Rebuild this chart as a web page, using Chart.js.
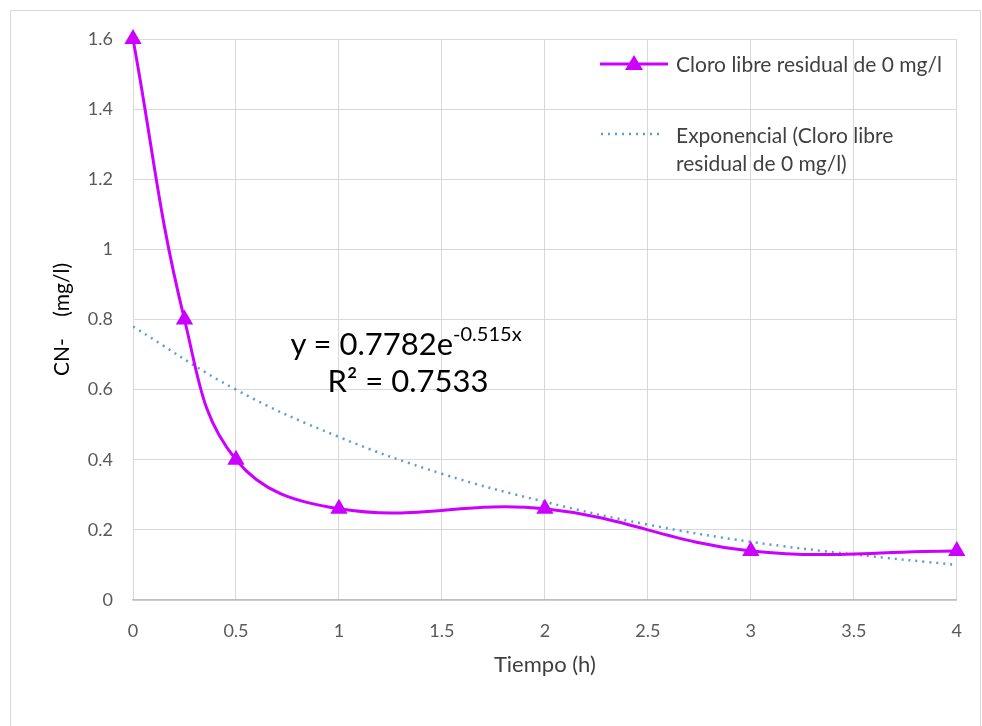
<!DOCTYPE html>
<html>
<head>
<meta charset="utf-8">
<script src="https://cdn.jsdelivr.net/npm/chart.js@4"></script>
<style>
  body { margin: 0; background: #fff; font-family: Lato, "Noto Sans", sans-serif; }
  #wrap { position: relative; width: 982px; height: 726px; overflow: hidden; }
  #frame { position: absolute; left: 10px; top: 10px; width: 969px; height: 730px; border: 1px solid #d9d9d9; }
  canvas { position: absolute; left: 0; top: 0; }
  .lbl { position: absolute; color: #404040; font-size: 21px; line-height: 28px; white-space: nowrap; }
  .eq { position: absolute; color: #000; font-size: 31px; text-align: center; width: 340px; white-space: nowrap; }
  .eq sup { font-size: 20px; vertical-align: 14px; }
  .key { position: absolute; }
</style>
</head>
<body>
<div id="wrap">
  <div id="frame"></div>
  <canvas id="chart" width="982" height="726"></canvas>

  <!-- leyenda -->
  <svg class="key" style="left:598px;top:52px" width="72" height="24">
    <line x1="2" y1="12" x2="70" y2="12" stroke="#cc00ff" stroke-width="3"/>
    <polygon points="36,3 45,18 27,18" fill="#cc00ff"/>
  </svg>
  <div class="lbl" style="left:676px;top:50px">Cloro libre residual de 0 mg/l</div>
  <svg class="key" style="left:598px;top:122px" width="72" height="24">
    <line x1="3" y1="12" x2="66" y2="12" stroke="#5b9bd5" stroke-width="2.5" stroke-dasharray="2 5" />
  </svg>
  <div class="lbl" style="left:676px;top:121px">Exponencial (Cloro libre<br>residual de 0 mg/l)</div>

  <!-- ecuacion de tendencia -->
  <div class="eq" style="left:236px;top:321px">y = 0.7782e<sup>-0.515x</sup></div>
  <div class="eq" style="left:238px;top:361px">R² = 0.7533</div>
</div>

<script>
// Tiempo (h) y CN- (mg/l)
const tiempo = [0, 0.25, 0.5, 1, 2, 3, 4];
const cianuro = [1.6, 0.8, 0.4, 0.26, 0.26, 0.14, 0.14];

// linea de tendencia exponencial
const tendX = [0, 0.5, 1, 1.5, 2, 2.5, 3, 3.5, 4];
const tendY = [0.78, 0.60, 0.465, 0.36, 0.28, 0.215, 0.166, 0.13, 0.10];

const xTicks = [0, 0.5, 1, 1.5, 2, 2.5, 3, 3.5, 4];
const yTicks = [0, 0.2, 0.4, 0.6, 0.8, 1, 1.2, 1.4, 1.6];

const ctx = document.getElementById('chart').getContext('2d');
new Chart(ctx, {
    type: 'line',
    data: {
        datasets: [
            {
                label: 'Cloro libre residual de 0 mg/l',
                data: tiempo.map((t, i) => ({ x: t, y: cianuro[i] })),
                borderColor: '#cc00ff',
                backgroundColor: '#cc00ff',
                borderWidth: 3,
                tension: 0.4,
                pointStyle: 'triangle',
                pointRadius: 10,
                pointBorderWidth: 0,
                clip: false,
                order: 1
            },
            {
                label: 'Exponencial (Cloro libre residual de 0 mg/l)',
                data: tendX.map((t, i) => ({ x: t, y: tendY[i] })),
                borderColor: '#5b9bd5',
                borderWidth: 2.5,
                borderDash: [2, 5],
                tension: 0.4,
                pointRadius: 0,
                order: 2
            }
        ]
    },
    options: {
        responsive: false,
        animation: false,
        layout: { padding: { left: 10, right: 14, top: 39, bottom: 0 } },
        plugins: { legend: { display: false }, tooltip: { enabled: false } },
        scales: {
            x: {
                type: 'linear',
                min: 0, max: 4,
                afterBuildTicks: (s) => { s.ticks = xTicks.map(v => ({ value: v })); },
                afterFit: (s) => { s.height = 126; },
                grid: { color: '#d9d9d9', drawTicks: false },
                border: { color: '#bfbfbf', width: 1.5 },
                ticks: { color: '#595959', font: { family: 'Lato', size: 18 }, padding: 20, maxRotation: 0,
                         callback: (v) => String(v) },
                title: { display: true, text: 'Tiempo (h)', color: '#404040', font: { family: 'Lato', size: 22 },
                         padding: { top: 0, bottom: 48 } }
            },
            y: {
                min: 0, max: 1.6,
                afterBuildTicks: (s) => { s.ticks = yTicks.map(v => ({ value: v })); },
                afterFit: (s) => { s.width = 123; },
                grid: { color: '#d9d9d9', drawTicks: false },
                border: { display: false },
                ticks: { color: '#595959', font: { family: 'Lato', size: 18 }, padding: 20,
                         callback: (v) => String(v) },
                title: { display: true, text: 'CN-    (mg/l)', color: '#000', font: { family: 'Lato', size: 21 },
                         padding: { top: 40, bottom: 0 } }
            }
        }
    }
});
</script>
</body>
</html>
